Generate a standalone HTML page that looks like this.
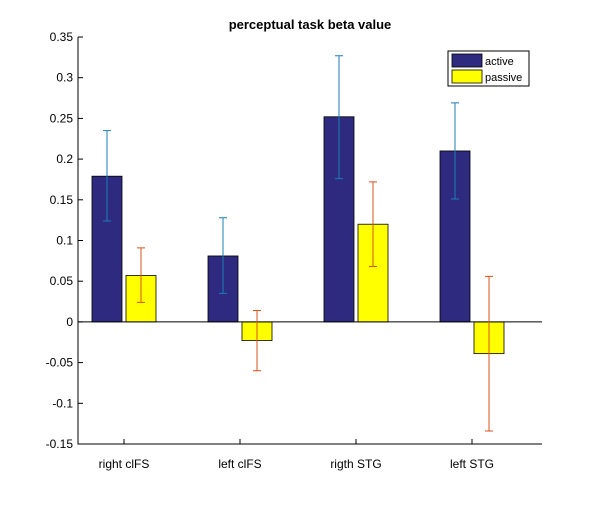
<!DOCTYPE html>
<html><head><meta charset="utf-8"><style>
body{margin:0;background:#fff;}
svg text{font-family:"Liberation Sans",Arial,sans-serif;}
</style></head><body>
<svg id="chart" width="600" height="500" viewBox="0 0 600 500" xmlns="http://www.w3.org/2000/svg">
<rect width="600" height="500" fill="#fff"/>
<text x="310" y="29" text-anchor="middle" font-size="13" font-weight="bold">perceptual task beta value</text>
<g id="plot"></g>
<g>
<rect x="448" y="51" width="81" height="35" fill="#fff" stroke="#000" stroke-width="1"/>
<rect x="452" y="54" width="30" height="13" fill="#2e2a7f" stroke="#000" stroke-width="0.8"/>
<text x="485" y="65" font-size="11">active</text>
<rect x="452" y="70" width="30" height="13" fill="#ffff00" stroke="#000" stroke-width="0.8"/>
<text x="485" y="81" font-size="11">passive</text>
</g>
</svg>
<script>
const categories=["right clFS","left clFS","rigth STG","left STG"];
const activeValues=[0.179,0.081,0.252,0.210];
const activeUpper=[0.235,0.128,0.327,0.269];
const activeLower=[0.124,0.035,0.176,0.151];
const passiveValues=[0.057,-0.023,0.120,-0.039];
const passiveUpper=[0.091,0.014,0.172,0.056];
const passiveLower=[0.024,-0.060,0.068,-0.134];
const yTicks=[-0.15,-0.1,-0.05,0,0.05,0.1,0.15,0.2,0.25,0.3,0.35];
const yTickLabels=["-0.15","-0.1","-0.05","0","0.05","0.1","0.15","0.2","0.25","0.3","0.35"];

const NS="http://www.w3.org/2000/svg";
const L=78,R=542,T=37,B=444,yMin=-0.15,yMax=0.35;
const y=v=>B-(v-yMin)/(yMax-yMin)*(B-T);
const x=i=>124+i*116;
const g=document.getElementById('plot');
function mk(tag,attrs){const e=document.createElementNS(NS,tag);for(const k in attrs)e.setAttribute(k,attrs[k]);g.appendChild(e);return e;}

yTicks.forEach((t,i)=>{
  const ln=mk('line',{x1:L,x2:L+5,y1:y(t),y2:y(t),stroke:'#000'});
  
  
  const tx=mk('text',{x:L-5,y:y(t)+4,'text-anchor':'end','font-size':'12'});
  tx.textContent=yTickLabels[i];
  
  
});
categories.forEach((c,i)=>{
  const ln=mk('line',{x1:x(i),x2:x(i),y1:B,y2:B-5,stroke:'#000'});
  
  
  const tx=mk('text',{x:x(i),y:B+24,'text-anchor':'middle','font-size':'12'});
  tx.textContent=c;
  
  
});
function bar(i,v,off,fill,name){
  const y0=y(0),y1=y(v);
  const r=mk('rect',{x:x(i)+off-15,y:Math.min(y0,y1),width:30,height:Math.abs(y0-y1),fill:fill,stroke:'#000','stroke-width':'0.8'});
  
  
}
function err(i,lo,hi,off,col,name){
  const cx=x(i)+off;
  const p=mk('path',{d:`M${cx},${y(lo)}V${y(hi)}M${cx-4},${y(lo)}H${cx+4}M${cx-4},${y(hi)}H${cx+4}`,stroke:col,fill:'none','stroke-width':'1'});
  
  
}
categories.forEach((c,i)=>{
  bar(i,activeValues[i],-17,'#2e2a7f','bar-active');
  bar(i,passiveValues[i],17,'#ffff00','bar-passive');
});
const zl=mk('line',{x1:L,x2:R,y1:y(0),y2:y(0),stroke:'#000'});


categories.forEach((c,i)=>{
  err(i,activeLower[i],activeUpper[i],-17,'#1a7fb5','error-bar-active');
  err(i,passiveLower[i],passiveUpper[i],17,'#d95319','error-bar-passive');
});
const ax=mk('path',{d:`M${L},${T}V${B}H${R}`,stroke:'#000',fill:'none'});


</script>
</body></html>
